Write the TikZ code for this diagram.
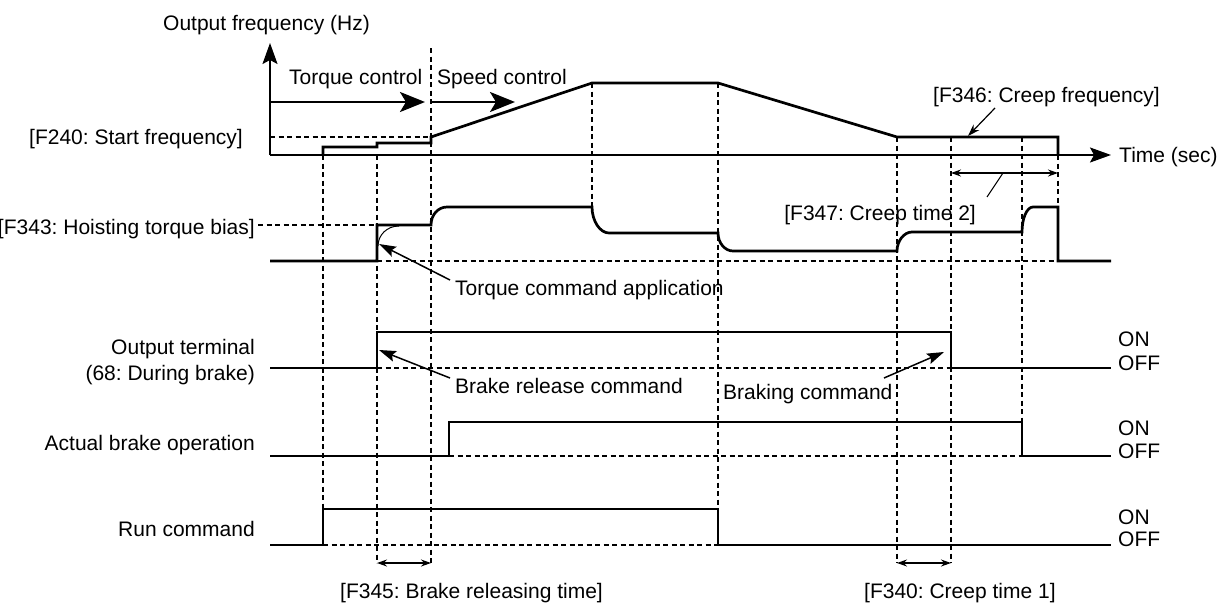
\documentclass[tikz,border=0pt]{standalone}
\usepackage{fontspec}
\setmainfont{Liberation Sans}
\usetikzlibrary{arrows.meta}
\frenchspacing
\begin{document}
\begin{tikzpicture}[x=1pt,y=-1pt,
  sig/.style={line width=2.7pt, line join=miter},
  axisline/.style={line width=1.8pt},
  guide/.style={line width=1.1pt, dash pattern=on 5pt off 3.5pt},
  bigtip/.style={-{Stealth[length=25pt,width=20pt,inset=6pt]}},
  axtip/.style={-{Stealth[length=21pt,width=15pt,inset=4pt]}},
  ann/.style={line width=1.5pt, -{Stealth[length=17pt,width=11pt,inset=3pt]}},
  dimline/.style={line width=1.2pt, {Stealth[length=10pt,width=7pt]}-{Stealth[length=10pt,width=7pt]}},
  txt/.style={inner sep=0pt, font=\fontsize{21}{26}\selectfont, text height=15pt, text depth=0pt},
]
\useasboundingbox (0,0) rectangle (1225,605);

% ---- guide lines (dashed) ----
\draw[guide] (323,155) -- (323,509);
\draw[guide] (377,155) -- (377,563);
\draw[guide] (431,48) -- (431,563);
\draw[guide] (592,83) -- (592,207);
\draw[guide] (718,83) -- (718,509);
\draw[guide] (897,137) -- (897,563);
\draw[guide] (951,137) -- (951,563);
\draw[guide] (1022,137) -- (1022,422);
\draw[guide] (1058,155) -- (1058,207);
\draw[guide] (270,137) -- (431,137);
\draw[guide] (258,225) -- (377,225);
\draw[guide] (377,261) -- (1058,261);
\draw[guide] (377,368) -- (951,368);
\draw[guide] (449,456) -- (1022,456);
\draw[guide] (323,545) -- (718,545);

% ---- axes ----
\coordinate (O) at (270,155);
\coordinate (ytop) at (270,43);
\coordinate (xend) at (1111,155);
\draw[axisline,axtip] (O) -- (ytop);
\draw[axisline,axtip] (O) -- (xend);

% ---- control mode arrows ----
\coordinate (tc0) at (270,102);
\coordinate (tc1) at (425,102);
\coordinate (sc0) at (431,102);
\coordinate (sc1) at (515,102);
\draw[sig,bigtip] (tc0) -- (tc1);
\draw[sig,bigtip] (sc0) -- (sc1);

% ---- output frequency ----
\draw[sig] (323,155) -- (323,147) -- (377,147) -- (377,143) -- (431,143)
  -- (431,137) -- (592,83) -- (718,83) -- (897,137) -- (1058,137) -- (1058,155);

% ---- torque ----
\draw[sig] (270,261) -- (377,261) -- (377,225) -- (431,225)
  .. controls (431,215) and (438,207) .. (447,207) -- (592,207)
  .. controls (592,221) and (600,233) .. (609,233) -- (718,233)
  .. controls (718,243) and (725,251) .. (733,251) -- (897,251)
  .. controls (897,241) and (904,232) .. (912,232) -- (1022,232)
  .. controls (1022,218) and (1027,207) .. (1033,207) -- (1058,207)
  -- (1058,261) -- (1111,261);
\draw[line width=1pt] (378,246) .. controls (378,235) and (387,226) .. (399,226);

% ---- output terminal / brake / run ----
\draw[sig] (270,368) -- (377,368) -- (377,332) -- (951,332) -- (951,368) -- (1111,368);
\draw[sig] (270,456) -- (449,456) -- (449,422) -- (1022,422) -- (1022,456) -- (1111,456);
\draw[sig] (270,545) -- (323,545) -- (323,509) -- (718,509) -- (718,545) -- (1111,545);

% ---- labels ----
\node[txt,anchor=west] (yl) at (163,23) {Output frequency (Hz)};
\node[txt,anchor=west] (xl) at (1119,155) {Time (sec)};
\node[txt,anchor=west] (tcl) at (289,77) {Torque control};
\node[txt,anchor=west] (scl) at (437,77) {Speed control};
\node[txt,anchor=east] (f240) at (243,137) {[F240: Start frequency]};
\node[txt,anchor=east] (f343) at (255,227) {[F343: Hoisting torque bias]};
\node[txt,anchor=west] (f346) at (933,95) {[F346: Creep frequency]};
\node[txt,anchor=east] (f347) at (976,213) {[F347: Creep time 2]};
\node[txt,anchor=west] (tca) at (455,288) {Torque command application};
\node[txt,anchor=west] (brc) at (455,386) {Brake release command};
\node[txt,anchor=west] (bkc) at (723,392) {Braking command};
\node[txt,anchor=east] (ot1) at (255,347) {Output terminal};
\node[txt,anchor=east] (ot2) at (255,373) {(68: During brake)};
\node[txt,anchor=east] (abo) at (255,443) {Actual brake operation};
\node[txt,anchor=east] (rc) at (255,529) {Run command};
\node[txt,anchor=west] (on1) at (1118,339) {ON};
\node[txt,anchor=west] (off1) at (1118,363) {OFF};
\node[txt,anchor=west] (on2) at (1118,428) {ON};
\node[txt,anchor=west] (off2) at (1118,451) {OFF};
\node[txt,anchor=west] (on3) at (1118,517) {ON};
\node[txt,anchor=west] (off3) at (1118,539) {OFF};
\node[txt,anchor=west] (f345) at (340,591) {[F345: Brake releasing time]};
\node[txt,anchor=west] (f340) at (864,591) {[F340: Creep time 1]};

% ---- annotation arrows ----
\coordinate (tcaT) at (450,280);  \coordinate (tcaH) at (379,244);
\coordinate (brcT) at (450,378);  \coordinate (brcH) at (379,350);
\coordinate (bkcT) at (884,378);  \coordinate (bkcH) at (944,352);
\coordinate (f346T) at (995,108); \coordinate (f346H) at (968,136);
\draw[ann] (tcaT) -- (tcaH);
\draw[ann] (brcT) -- (brcH);
\draw[ann] (bkcT) -- (bkcH);
\draw[line width=1.2pt, -{Stealth[length=12pt,width=8pt]}] (f346T) -- (f346H);

% ---- time spans ----
\draw[dimline] (377,563) -- (431,563);
\draw[dimline] (897,563) -- (951,563);
\draw[dimline] (951,173) -- (1058,173);
\coordinate (f347a) at (1003,173);
\coordinate (f347b) at (987,197);
\draw[line width=1pt] (f347a) -- (f347b);
\end{tikzpicture}
\end{document}
